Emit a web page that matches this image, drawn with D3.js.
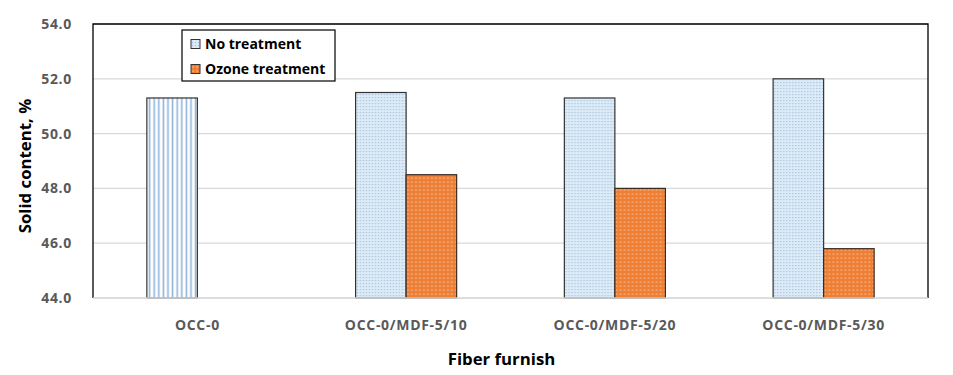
<!DOCTYPE html>
<html>
<head>
<meta charset="utf-8">
<script src="https://cdn.jsdelivr.net/npm/d3@7"></script>
<style>
    body { margin: 0; background: #fff; }
    .axis-label { font-family: "Open Sans", sans-serif; font-weight: bold; font-size: 16.8px; fill: #000; }
    .tick-label { font-family: "Open Sans", sans-serif; font-weight: bold; font-size: 14px; letter-spacing: 0.7px; fill: #595959; }
    .legend-text { font-family: "Open Sans", sans-serif; font-weight: bold; font-size: 14px; fill: #000; }
</style>
</head>
<body>
<div id="chart"></div>
<script>
// data
const categories = ["OCC-0", "OCC-0/MDF-5/10", "OCC-0/MDF-5/20", "OCC-0/MDF-5/30"];
const noTreatment = [51.3, 51.5, 51.3, 52.0];
const ozoneTreatment = [null, 48.5, 48.0, 45.8];
const seriesNames = ["No treatment", "Ozone treatment"];
const yTicks = [44, 46, 48, 50, 52, 54];

const margin = { top: 24, right: 25, bottom: 77, left: 93 };
const width = 953 - margin.left - margin.right,
    height = 375 - margin.top - margin.bottom;

const svg = d3.select("#chart").append("svg")
    .attr("width", 953)
    .attr("height", 375);

// fill patterns
const defs = svg.append("defs");

const stripes = defs.append("pattern")
    .attr("id", "stripes")
    .attr("patternUnits", "userSpaceOnUse")
    .attr("width", 4.6).attr("height", 10);
stripes.append("rect").attr("width", 4.6).attr("height", 10).attr("fill", "#fff");
stripes.append("rect").attr("x", 0.6).attr("width", 1.6).attr("height", 10).attr("fill", "#8fb4dc");

const dotsBlue = defs.append("pattern")
    .attr("id", "dots-blue")
    .attr("patternUnits", "userSpaceOnUse")
    .attr("width", 3).attr("height", 3);
dotsBlue.append("rect").attr("width", 3).attr("height", 3).attr("fill", "#dcebf8");
dotsBlue.append("rect").attr("x", 1).attr("y", 1).attr("width", 1.2).attr("height", 1.2).attr("fill", "#a9bfd6");

const dotsOrange = defs.append("pattern")
    .attr("id", "dots-orange")
    .attr("patternUnits", "userSpaceOnUse")
    .attr("width", 4).attr("height", 4);
dotsOrange.append("rect").attr("width", 4).attr("height", 4).attr("fill", "#ee7f35");
dotsOrange.append("rect").attr("x", 1.5).attr("y", 1.5).attr("width", 1.2).attr("height", 1.2).attr("fill", "#fbd3b4");

const g = svg.append("g")
    .attr("transform", "translate(" + margin.left + "," + margin.top + ")");

const x0 = d3.scaleBand()
    .domain(categories)
    .range([0, width]);

const x1 = d3.scaleBand()
    .domain(seriesNames)
    .range([x0.bandwidth() * 0.258, x0.bandwidth() * 0.742]);

const y = d3.scaleLinear()
    .domain([44, 54])
    .range([height, 0]);

// gridlines
g.selectAll(".grid")
    .data(yTicks)
    .enter().append("line")
    .attr("x1", 0).attr("x2", width)
    .attr("y1", d => y(d)).attr("y2", d => y(d))
    .attr("stroke", "#d9d9d9")
    .attr("stroke-width", 1.2);

// y tick labels
g.selectAll(".ylab")
    .data(yTicks)
    .enter().append("text")
    .attr("class", "tick-label")
    .attr("x", -21)
    .attr("y", d => y(d))
    .attr("dy", "0.35em")
    .attr("text-anchor", "end")
    .text(d => d.toFixed(1));

// x tick labels
g.selectAll(".xlab")
    .data(categories)
    .enter().append("text")
    .attr("class", "tick-label")
    .attr("x", d => x0(d) + x0.bandwidth() / 2)
    .attr("y", height + 32)
    .attr("text-anchor", "middle")
    .text(d => d);

// bars
const rows = categories.map((c, i) => ({ cat: c, i: i }));
const groups = g.selectAll(".group")
    .data(rows)
    .enter().append("g")
    .attr("transform", d => "translate(" + x0(d.cat) + ",0)");

// first category only has the untreated bar, drawn with stripes
groups.append("rect")
    .attr("x", x1(seriesNames[0]))
    .attr("y", d => y(noTreatment[d.i]))
    .attr("width", x1.bandwidth())
    .attr("height", d => height - y(noTreatment[d.i]))
    .attr("fill", d => d.i === 0 ? "url(#stripes)" : "url(#dots-blue)")
    .attr("stroke", "#333")
    .attr("stroke-width", 1.2);

groups.filter(d => ozoneTreatment[d.i] !== null)
    .append("rect")
    .attr("x", x1(seriesNames[1]))
    .attr("y", d => y(ozoneTreatment[d.i]))
    .attr("width", x1.bandwidth())
    .attr("height", d => height - y(ozoneTreatment[d.i]))
    .attr("fill", "url(#dots-orange)")
    .attr("stroke", "#3a2a20")
    .attr("stroke-width", 1.2);

// plot frame: black left/top/right, grey bottom axis
g.append("path")
    .attr("d", "M0," + height + "V0H" + width + "V" + height)
    .attr("fill", "none")
    .attr("stroke", "#000")
    .attr("stroke-width", 1.3);
g.append("line")
    .attr("x1", 0).attr("x2", width)
    .attr("y1", height).attr("y2", height)
    .attr("stroke", "#d9d9d9")
    .attr("stroke-width", 1.3);

// axis titles
svg.append("text")
    .attr("class", "axis-label")
    .attr("transform", "translate(31,166) rotate(-90)")
    .attr("text-anchor", "middle")
    .text("Solid content, %");

svg.append("text")
    .attr("class", "axis-label")
    .attr("x", margin.left + width / 2 - 9)
    .attr("y", 365)
    .attr("text-anchor", "middle")
    .text("Fiber furnish");

// legend
const legend = svg.append("g")
    .attr("transform", "translate(182,30)");

legend.append("rect")
    .attr("width", 153).attr("height", 51)
    .attr("fill", "#fff")
    .attr("stroke", "#000")
    .attr("stroke-width", 1.2);

const legendFills = ["url(#dots-blue)", "url(#dots-orange)"];
const items = legend.selectAll(".item")
    .data(seriesNames)
    .enter().append("g")
    .attr("transform", (d, i) => "translate(9," + (14 + i * 25) + ")");

items.append("rect")
    .attr("x", 0).attr("y", -4.5)
    .attr("width", 9).attr("height", 9)
    .attr("fill", (d, i) => legendFills[i])
    .attr("stroke", "#333")
    .attr("stroke-width", 1);

items.append("text")
    .attr("class", "legend-text")
    .attr("x", 14)
    .attr("dy", "0.35em")
    .text(d => d);
</script>
</body>
</html>
